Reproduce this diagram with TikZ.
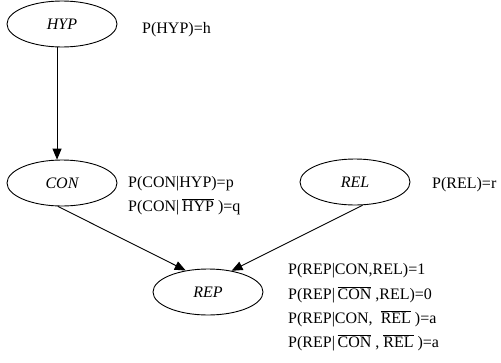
\documentclass[tikz,border=0pt]{standalone}
\usepackage{fontspec}
\setmainfont{Liberation Serif}
\usetikzlibrary{shapes.geometric,arrows.meta}
\newcommand{\olt}[1]{$\overline{\mbox{#1}}$}
\begin{document}
\begin{tikzpicture}[x=1pt,y=1pt,
  var/.style={ellipse, draw, line width=0.9pt, minimum width=110pt, minimum height=46pt, inner sep=0pt, font=\fontsize{16}{19}\selectfont\itshape},
  prob/.style={anchor=west, inner sep=0pt, font=\fontsize{16}{19}\selectfont},
  edge/.style={line width=0.9pt, -{Triangle[length=11pt,width=9pt]}}]
\useasboundingbox (0,0) rectangle (501,-362);
\node[var] (HYP) at (62,-24) {HYP};
\node[var] (CON) at (62,-183) {CON};
\node[var] (REL) at (355,-182) {REL};
\node[var] (REP) at (208,-292) {REP};
\node[prob] (pHYP) at (142,-30) {P(HYP)=h};
\node[prob] (pCON1) at (128,-184) {P(CON|HYP)=p};
\node[prob] (pCON2) at (128,-207) {P(CON|\,\olt{HYP} )=q};
\node[prob] (pREL) at (432,-185) {P(REL)=r};
\node[prob] (pREP1) at (288,-271) {P(REP|CON,REL)=1};
\node[prob] (pREP2) at (288,-295) {P(REP|\,\olt{CON} ,REL)=0};
\node[prob] (pREP3) at (288,-319) {P(REP|CON,\ \ \olt{REL} )=a};
\node[prob] (pREP4) at (288,-343) {P(REP|\,\olt{CON} , \olt{REL} )=a};
\draw[edge] (HYP.-102) -- (CON.102);
\draw[edge] (CON.-100) -- (REP.136);
\draw[edge] (REL.-72) -- (REP.42);
\end{tikzpicture}
\end{document}
